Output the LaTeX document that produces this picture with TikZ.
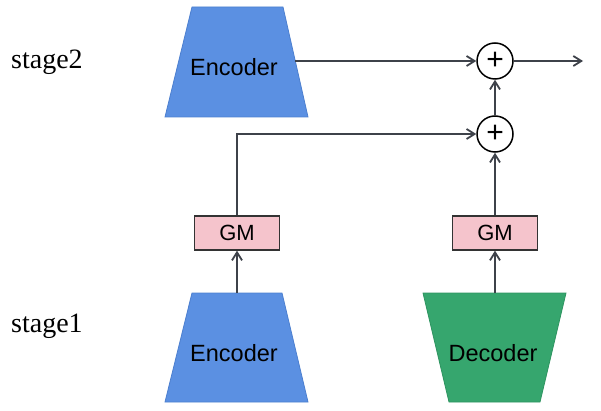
\documentclass[tikz,border=0pt]{standalone}
\usepackage{fontspec}
\setmainfont{Liberation Serif}
\newfontfamily\arialf{Liberation Sans}
\usetikzlibrary{arrows.meta}
\definecolor{encblue}{HTML}{5B90E2}
\definecolor{encedge}{HTML}{4C7FCF}
\definecolor{decgreen}{HTML}{36A66E}
\definecolor{decedge}{HTML}{2E9460}
\definecolor{gmpink}{HTML}{F5C4CC}
\definecolor{linec}{HTML}{3E424A}
\begin{document}
\begin{tikzpicture}[x=1pt,y=-1pt,
  conn/.style={draw=linec, line width=1.8pt, -{Straight Barb[length=8pt,width=10pt]}},
  plainconn/.style={draw=linec, line width=1.8pt},
  sumnode/.style={circle, draw=black, line width=1.5pt, minimum size=36pt, inner sep=0pt, fill=white, font=\arialf\fontsize{30}{30}\selectfont},
  gmbox/.style={draw=black!80, fill=gmpink, line width=1.3pt, minimum width=85pt, minimum height=34pt, inner sep=0pt, font=\arialf\fontsize{22}{22}\selectfont},
  lbl/.style={font=\arialf\fontsize{23.5}{24}\selectfont, inner sep=0pt},
  stagelbl/.style={font=\fontsize{28}{28}\selectfont, anchor=base west, inner sep=0pt},
  encshape/.style={fill=encblue, draw=encedge, line width=0.8pt},
  decshape/.style={fill=decgreen, draw=decedge, line width=0.8pt}
]
\useasboundingbox (0,0) rectangle (601,411);

% stage labels
\node[stagelbl] (st2) at (11,69) {stage2};
\node[stagelbl] (st1) at (11,332) {stage1};

% top encoder
\path[encshape] (192,7) -- (283,7) -- (308,117) -- (165,117) -- cycle;
\node[lbl] (enc2) at (234,67) {Encoder};
\coordinate (enc2out) at (295,61);

% bottom encoder
\path[encshape] (192,293) -- (282,293) -- (308,402) -- (165,402) -- cycle;
\node[lbl] (enc1) at (234,353) {Encoder};
\coordinate (enc1top) at (237,293);

% decoder
\path[decshape] (423,293) -- (566,293) -- (540,402) -- (449,402) -- cycle;
\node[lbl] (dec) at (493,353) {Decoder};
\coordinate (dectop) at (495,293);

% GM boxes
\node[gmbox] (gm1) at (237,233) {GM};
\node[gmbox] (gm2) at (495,233) {GM};

% sum nodes
\node[sumnode] (sum2) at (495,61) {+};
\node[sumnode] (sum1) at (495,134) {+};
\coordinate (out) at (583,61);

% connectors
\draw[conn] (enc1top) -- (gm1.south);
\draw[conn] (dectop) -- (gm2.south);
\draw[conn] (gm1.north) |- (sum1.west);
\draw[conn] (gm2.north) -- (sum1.south);
\draw[conn] (sum1.north) -- (sum2.south);
\draw[conn] (enc2out) -- (sum2.west);
\draw[conn] (sum2.east) -- (out);
\end{tikzpicture}
\end{document}
